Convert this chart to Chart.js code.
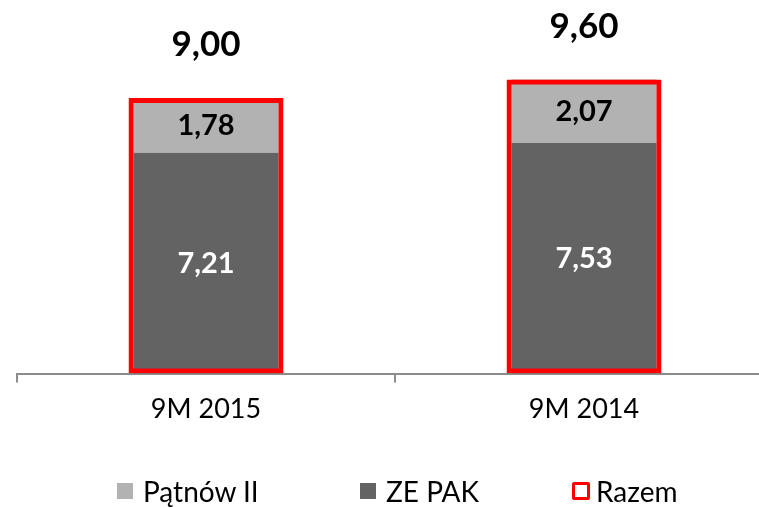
<!DOCTYPE html>
<html>
<head>
<meta charset="utf-8">
<script src="https://cdn.jsdelivr.net/npm/chart.js@4/dist/chart.umd.min.js"></script>
<style>
  html, body { margin: 0; padding: 0; background: #fff; overflow: hidden; }
  #wrap { width: 773px; height: 508px; position: relative; }
  #legend { position: absolute; left: 0; width: 759px; top: 474px; height: 34px;
            font-family: Lato, sans-serif; font-size: 28px; color: #000; }
  .item { position: absolute; top: 0; display: flex; align-items: center; }
  .box { width: 16px; height: 16px; margin-right: 10px; box-sizing: border-box; }
</style>
</head>
<body>
<div id="wrap"><canvas id="chart"></canvas></div>
<div id="legend"></div>
<script>
const categories = ['9M 2015', '9M 2014'];
const zePak = [7.21, 7.53];
const patnow = [1.78, 2.07];
const razem = [9.00, 9.60];
const legendLeft = [117, 360, 572];

function fmt(v) {
    return v.toFixed(2).replace('.', ',');
}

// draws the numbers inside the bars and the totals above them
const valueLabels = {
    id: 'valueLabels',
    afterDatasetsDraw(chart) {
        const ctx = chart.ctx;
        ctx.save();
        ctx.textAlign = 'center';
        ctx.textBaseline = 'middle';
        chart.data.datasets.forEach((ds, i) => {
            const meta = chart.getDatasetMeta(i);
            meta.data.forEach((bar, j) => {
                const v = ds.data[j];
                if (ds.label === 'Razem') {
                    ctx.font = 'bold 35px Lato';
                    ctx.fillStyle = '#000';
                    ctx.fillText(fmt(v), bar.x, bar.y - 53);
                } else {
                    ctx.font = 'bold 29px Lato';
                    ctx.fillStyle = ds.label === 'ZE PAK' ? '#fff' : '#000';
                    ctx.fillText(fmt(v), bar.x, (bar.y + bar.base) / 2);
                }
            });
        });
        ctx.restore();
    }
};

const chart = new Chart(document.getElementById('chart'), {
    type: 'bar',
    data: {
        labels: categories,
        datasets: [
            {
                label: 'Pątnów II',
                data: patnow,
                backgroundColor: '#b2b2b2',
                yAxisID: 'y',
                order: 3,
                categoryPercentage: 1,
                barPercentage: 0.384
            },
            {
                label: 'ZE PAK',
                data: zePak,
                backgroundColor: '#636363',
                yAxisID: 'y',
                order: 2,
                categoryPercentage: 1,
                barPercentage: 0.384
            },
            {
                label: 'Razem',
                data: razem,
                backgroundColor: 'rgba(0,0,0,0)',
                borderColor: '#ff0000',
                borderWidth: 5,
                borderSkipped: false,
                yAxisID: 'y2',
                grouped: false,
                order: 1,
                categoryPercentage: 1,
                barPercentage: 0.41
            }
        ]
    },
    options: {
        responsive: true,
        maintainAspectRatio: false,
        animation: false,
        layout: { padding: { left: 17, top: 0, right: 0, bottom: 73 } },
        plugins: {
            tooltip: { enabled: false },
            legend: { display: false }
        },
        scales: {
            x: {
                stacked: true,
                offset: true,
                border: { display: true, color: '#8c8c8c', width: 2 },
                grid: { display: true, drawOnChartArea: false, drawTicks: true, tickLength: 9, color: '#8c8c8c', lineWidth: 2, offset: true },
                ticks: { color: '#000', font: { family: 'Lato', size: 27 }, padding: 10 }
            },
            y: {
                stacked: true,
                display: false,
                min: 0,
                max: 12.2
            },
            y2: {
                stacked: false,
                display: false,
                min: 0,
                max: 12.2
            }
        }
    },
    plugins: [valueLabels]
});

// legend as plain html below the chart
const legend = document.getElementById('legend');
chart.data.datasets.forEach((ds, i) => {
    const item = document.createElement('div');
    item.className = 'item';
    item.style.left = legendLeft[i] + 'px';
    const box = document.createElement('span');
    box.className = 'box';
    if (ds.label === 'Razem') {
        box.style.border = '3px solid #ff0000';
        box.style.width = '18px';
        box.style.height = '18px';
        box.style.borderRadius = '2px';
        box.style.marginRight = '6px';
    } else {
        box.style.background = ds.backgroundColor;
    }
    const txt = document.createElement('span');
    txt.textContent = ds.label;
    item.appendChild(box);
    item.appendChild(txt);
    legend.appendChild(item);
});
</script>
</body>
</html>
